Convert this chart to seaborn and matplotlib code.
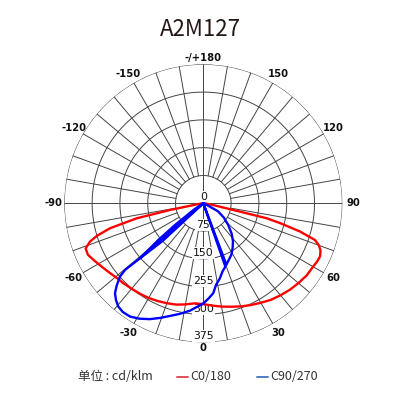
import numpy as np
import pandas as pd
import matplotlib.pyplot as plt
import seaborn as sns
from matplotlib.lines import Line2D

# chart texts
title = "A2M127"
unit_text = "单位 : cd/klm"
series_names = ["C0/180", "C90/270"]

# C0/180 curve (angle in degrees, intensity in cd/klm)
c0_angles = [-90, -85, -80, -78.6, -77.3, -75, -73, -71.3, -69, -66, -63, -60, -57, -53,
             -49, -45, -40, -35, -30, -25, -20, -15, -10, -5, 0, 5, 10, 15, 20, 25, 30,
             35, 40, 45, 50, 55, 60, 63, 65.5, 68, 70, 71.8, 73.7, 75.5, 76.7, 77.4,
             80, 85, 90]
c0_values = [0, 5, 25, 92, 184, 261, 300, 323, 340, 341, 334, 327, 321, 314,
             308, 305, 301, 298, 295, 291, 287, 283, 277, 271, 272, 277, 283, 289, 296, 303, 310,
             318, 324, 330, 335, 340, 342, 345, 346, 341, 332, 317, 272, 215, 175, 83,
             25, 5, 0]

# C90/270 curve, in drawing order (zeros are dropouts back to the centre)
c90_angles = [90, 70, 66, 61.4, 55, 49.2, 43, 38, 33, 28.6, 24, 20.6, 19.9, 19.2, 16,
              14.2, 12.5, 9, 6.3, 3, 0, -3.5, -7.1, -12, -16.5, -20.5, -24.7, -29, -32.9,
              -36.5, -39.4, -42, -44.5, -46.5, -48.7, -49.6, -49.0, -47.2, -47.5, -49.5,
              -49.0, -50.8, -52.5, -56, -60, -90]
c90_values = [0, 0, 8, 45, 68, 88, 112, 130, 145, 158, 168, 177, 0, 181, 190,
              198, 207, 222, 244, 258, 270, 280, 292, 305, 317, 330, 344, 356, 364,
              365, 361, 352, 340, 322, 299, 277, 225, 150, 0, 140,
              225, 157, 96, 30, 0, 0]

# grid and tick labels
ring_values = [75, 150, 225, 300, 375]
ring_label_values = [0, 75, 150, 225, 300, 375]
ring_labels = ["0", "75", "150", "255", "300", "375"]
angle_ticks = [0, 30, 60, 90, 120, 150, 180, -150, -120, -90, -60, -30]
angle_labels = ["0", "30", "60", "90", "120", "150", "-/+180",
                "-150", "-120", "-90", "-60", "-30"]

sns.set_theme(style="white")
plt.rcParams['font.family'] = ['Noto Sans CJK SC', 'DejaVu Sans']

df = pd.concat([
    pd.DataFrame({'theta': np.deg2rad(c0_angles), 'r': c0_values, 'series': series_names[0]}),
    pd.DataFrame({'theta': np.deg2rad(c90_angles), 'r': c90_values, 'series': series_names[1]}),
], ignore_index=True)

fig = plt.figure(figsize=(4, 4), dpi=100)
ax = fig.add_axes([0.1608, 0.1443, 0.695, 0.695], projection='polar')
ax.set_theta_zero_location('S')
ax.set_theta_direction(1)
ax.grid(False)
ax.spines['polar'].set_visible(False)

grid_kw = dict(color='#444444', lw=0.7, zorder=1)
th = np.linspace(0, 2 * np.pi, 361)
for v in ring_values:
    ax.plot(th, np.full_like(th, v), **grid_kw)
for d in range(0, 360, 10):
    r0 = 0 if d % 90 == 0 else ring_values[0]
    ax.plot([np.deg2rad(d)] * 2, [r0, ring_values[-1]], **grid_kw)

sns.lineplot(data=df, x='theta', y='r', hue='series', sort=False, estimator=None,
             palette={series_names[0]: '#ff0000', series_names[1]: '#0000ff'},
             linewidth=1.7, legend=False, ax=ax, zorder=5)

ax.set_xlabel('')
ax.set_ylabel('')
ax.set_xticks([])
ax.set_yticks([])
ax.set_xlim(0, 2 * np.pi)
ax.set_ylim(0, 375)

# radial labels along the 0 degree axis
for v, lab in zip(ring_label_values, ring_labels):
    if v == 0:
        pos = (np.pi, 16)
    else:
        pos = (0, v - 16)
    ax.text(*pos, lab, ha='center', va='center', fontsize=7.8, color='#111111',
            family='DejaVu Sans', zorder=3,
            bbox=dict(boxstyle='square,pad=0.1', fc='white', ec='none'))

# angle labels around the outside
for a, lab in zip(angle_ticks, angle_labels):
    rr = 391 if a % 180 == 0 else 404
    ax.text(np.deg2rad(a), rr, lab, ha='center', va='center', fontsize=7.2,
            fontweight='bold', family='DejaVu Sans', color='#111111', clip_on=False)

fig.text(0.5, 1 - 29 / 400, title, ha='center', va='center', fontsize=16, color='#231815')

# legend row
ly = 1 - 377 / 400
fig.text(78 / 400, ly, unit_text, ha='left', va='center', fontsize=9, color='#333333')
fig.add_artist(Line2D([177 / 400, 188 / 400], [ly, ly], color='#e0505e', lw=1.4))
fig.text(190 / 400, ly, series_names[0], ha='left', va='center', fontsize=9, color='#333333')
fig.add_artist(Line2D([257 / 400, 268 / 400], [ly, ly], color='#4f7fc0', lw=1.4))
fig.text(270 / 400, ly, series_names[1], ha='left', va='center', fontsize=9, color='#333333')

fig.savefig('out.png', dpi=100, facecolor='white')
